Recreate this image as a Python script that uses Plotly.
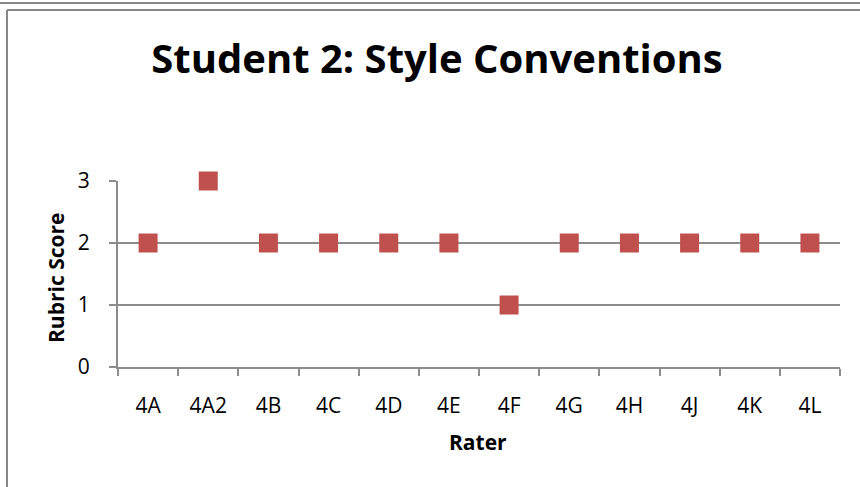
import plotly.graph_objects as go

raters = ["4A", "4A2", "4B", "4C", "4D", "4E", "4F", "4G", "4H", "4J", "4K", "4L"]
scores = [2, 3, 2, 2, 2, 2, 1, 2, 2, 2, 2, 2]

W, H = 860, 487
L, R, T, B = 118, 20, 181, 120
pw, ph = W - L - R, H - T - B


def px_x(x):
    return (x - L) / pw


def px_y(y):
    return (H - B - y) / ph


fig = go.Figure(go.Scatter(
    x=raters, y=scores, mode="markers", cliponaxis=False,
    marker=dict(symbol="square", size=19, color="#C0504D"),
))

grey = "#8c8c8c"
fig.update_layout(
    width=W, height=H,
    margin=dict(l=L, r=R, t=T, b=B),
    paper_bgcolor="white", plot_bgcolor="white",
    font=dict(family="Open Sans", color="black"),
    showlegend=False,
    title=dict(
        text="<b>Student 2: Style Conventions</b>",
        font=dict(size=40, family="Open Sans", color="black"),
        x=437 / W, xanchor="center", y=1 - 59 / H, yanchor="middle",
    ),
    xaxis=dict(
        type="category", range=[-0.5, len(raters) - 0.5],
        tickson="boundaries", ticks="outside", ticklen=7,
        tickcolor=grey, tickwidth=2, showline=True, linecolor=grey, linewidth=2,
        showgrid=False, tickfont=dict(size=21), ticklabelstandoff=19,
    ),
    yaxis=dict(
        range=[0, 3], tickvals=[0, 1, 2, 3], ticks="outside", ticklen=7,
        tickcolor=grey, tickwidth=2, showline=True, linecolor=grey, linewidth=2,
        showgrid=True, gridcolor=grey, gridwidth=2, zeroline=False,
        tickfont=dict(size=21), ticklabelstandoff=15,
    ),
)

# axis titles
fig.add_annotation(text="<b>Rater</b>", xref="paper", yref="paper",
                   x=px_x(478), y=px_y(442), showarrow=False,
                   xanchor="center", yanchor="middle", font=dict(size=21))
fig.add_annotation(text="<b>Rubric Score</b>", xref="paper", yref="paper",
                   x=px_x(56), y=px_y(278), showarrow=False, textangle=-90,
                   xanchor="center", yanchor="middle", font=dict(size=21))

# outer frames
fig.add_shape(type="line", xref="paper", yref="paper",
              x0=px_x(0), x1=px_x(W), y0=px_y(3), y1=px_y(3),
              line=dict(color="#888888", width=2))
fig.add_shape(type="line", xref="paper", yref="paper",
              x0=px_x(7), x1=px_x(W), y0=px_y(10), y1=px_y(10),
              line=dict(color="#888888", width=2))
fig.add_shape(type="line", xref="paper", yref="paper",
              x0=px_x(7), x1=px_x(7), y0=px_y(10), y1=px_y(H),
              line=dict(color="#888888", width=2))

fig.write_html("out.html", config={"displayModeBar": False},
               post_script="document.body.style.margin='0';")
